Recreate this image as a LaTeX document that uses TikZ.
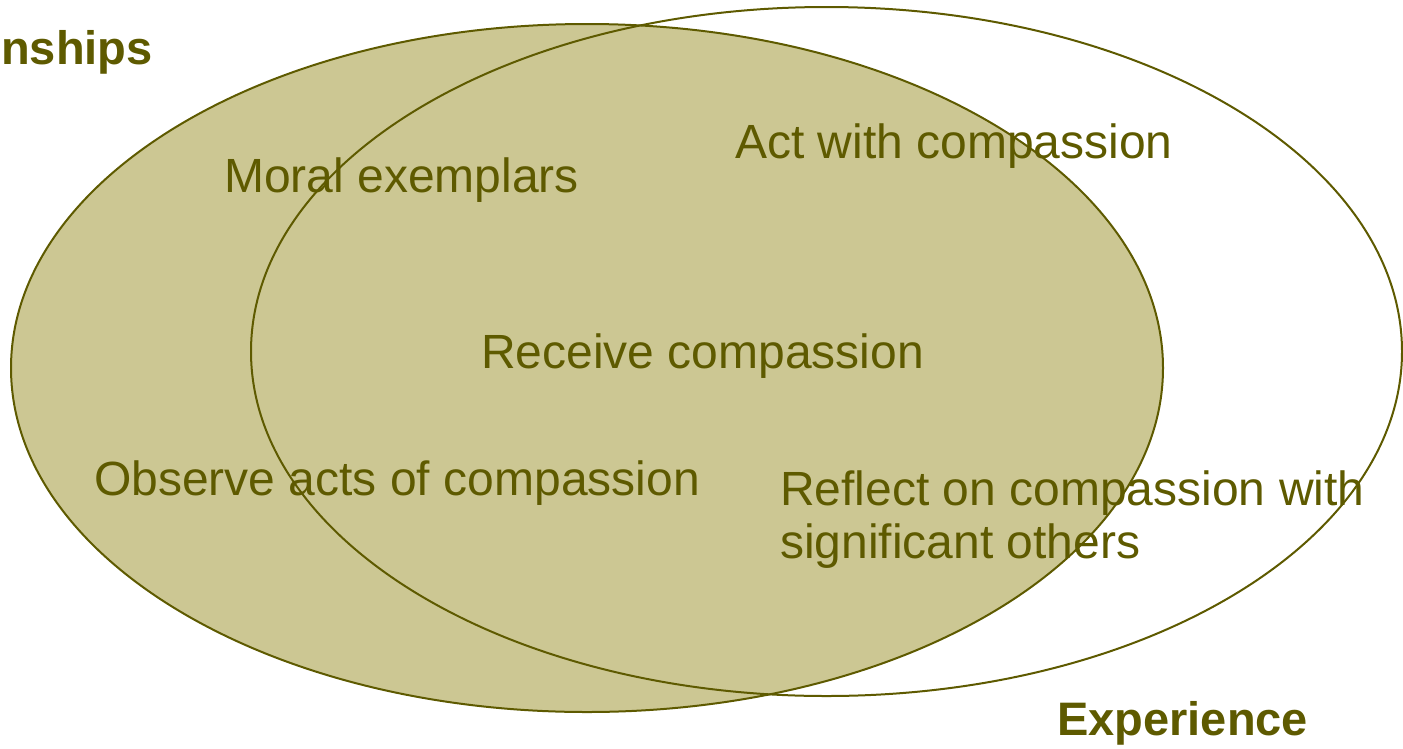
\documentclass[tikz,border=0pt]{standalone}
\usepackage{fontspec}
\setmainfont{Liberation Sans}
\definecolor{olivefill}{HTML}{CCC793}
\definecolor{oliveline}{HTML}{5E5A00}
\begin{document}
\begin{tikzpicture}[x=1pt,y=-1pt,
  lbl/.style={anchor=base west,inner sep=0pt,text=oliveline,font=\fontsize{48}{53}\selectfont},
  ttl/.style={anchor=base west,inner sep=0pt,text=oliveline,font=\fontsize{47}{53}\selectfont\bfseries},
  ring/.style={draw=oliveline,line width=2pt}]
\useasboundingbox (0,0) rectangle (1403,748);
% filled left ellipse
\fill[olivefill] (587,368) ellipse [x radius=576, y radius=344];
% texts
\node[lbl] (moral) at (224,192) {Moral exemplars};
\node[lbl] (act) at (735,158) {Act with compassion};
\node[lbl] (receive) at (481,368) {Receive compassion};
\node[lbl] (observe) at (94,495) {Observe acts of compassion};
\node[lbl] (reflect1) at (780,505) {Reflect on compassion with};
\node[lbl] (reflect2) at (780,558) {significant others};
\node[ttl] (rel) at (1,64) {nships};
\node[ttl] (exp) at (1057,735) {Experience};
% outlines
\draw[ring] (587,368) ellipse [x radius=576, y radius=344];
\draw[ring] (826.5,351.5) ellipse [x radius=575.5, y radius=344.5];
\end{tikzpicture}
\end{document}
